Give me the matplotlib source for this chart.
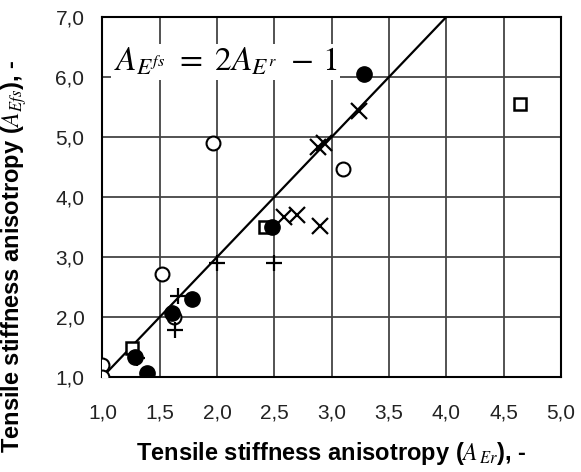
import matplotlib.pyplot as plt
import numpy as np

plt.rcParams['font.family'] = ['Liberation Sans', 'DejaVu Sans']
plt.rcParams['mathtext.fontset'] = 'stix'

# dados (A_Er, A_Efs) por serie
cheio_x = [3.28, 2.48, 1.78, 1.61, 1.28, 1.39]
cheio_y = [6.05, 3.50, 2.30, 2.07, 1.33, 1.07]

aberto_x = [1.96, 3.10, 1.52, 1.62, 1.00, 1.00]
aberto_y = [4.90, 4.47, 2.72, 2.00, 1.20, 1.00]

quadrado_x = [4.64, 2.42, 1.26]
quadrado_y = [5.55, 3.50, 1.48]

xis_x = [3.24, 2.88, 2.93, 2.58, 2.70, 2.90]
xis_y = [5.43, 4.83, 4.90, 3.67, 3.70, 3.52]

mais_x = [2.00, 2.50, 1.66, 1.63, 1.30]
mais_y = [2.90, 2.90, 2.35, 1.78, 1.32]

# reta A_Efs = 2 A_Er - 1
reta_x = np.array([1.0, 4.0])
reta_y = 2 * reta_x - 1

fig = plt.figure(figsize=(5.81, 4.72), dpi=100)
ax = fig.add_axes([0.1764, 0.2013, 0.789, 0.7627])

ax.plot(reta_x, reta_y, color='black', lw=1.6, zorder=3)

ax.plot(aberto_x, aberto_y, 'o', mfc='white', mec='black', mew=1.5, ms=10, zorder=4)
ax.plot(quadrado_x, quadrado_y, 's', mfc='white', mec='black', mew=1.8, ms=9, zorder=4)
ax.plot(mais_x, mais_y, '+', color='black', mew=1.6, ms=12, zorder=4)
ax.plot(xis_x, xis_y, 'x', color='black', mew=1.6, ms=11, zorder=4)
ax.plot(cheio_x, cheio_y, 'o', color='black', ms=11, zorder=5)

ax.set_xlim(1.0, 5.0)
ax.set_ylim(1.0, 7.0)
ax.set_xticks(np.arange(1.0, 5.01, 0.5))
ax.set_yticks(np.arange(1.0, 7.01, 1.0))
ax.set_xticklabels([f"{v:.1f}".replace('.', ',') for v in np.arange(1.0, 5.01, 0.5)])
ax.set_yticklabels([f"{v:.1f}".replace('.', ',') for v in np.arange(1.0, 7.01, 1.0)])
ax.tick_params(length=0, labelsize=15, colors='#222222')
ax.tick_params(axis='x', pad=19)
ax.tick_params(axis='y', pad=13)

ax.grid(True, color='#444444', lw=1.3, zorder=1)
ax.set_axisbelow(True)
for s in ax.spines.values():
    s.set_linewidth(1.5)

ax.set_xlabel(r"Tensile stiffness anisotropy ($A_{\,Er}$), -", fontsize=17,
              fontweight='bold')
ax.set_ylabel(r"Tensile stiffness anisotropy ($A_{Efs}$), -", fontsize=17,
              fontweight='bold')
ax.xaxis.set_label_coords(0.50, -0.175)
ax.yaxis.set_label_coords(-0.16, 0.335)

ax.text(1.1, 6.25, r"$A_{E^{fs}}\ =\ 2A_{E^{r}}\ -\,1$", fontsize=24,
        ha='left', va='center', zorder=2,
        bbox=dict(facecolor='white', edgecolor='none', pad=2))

fig.savefig('out.png', dpi=100)
